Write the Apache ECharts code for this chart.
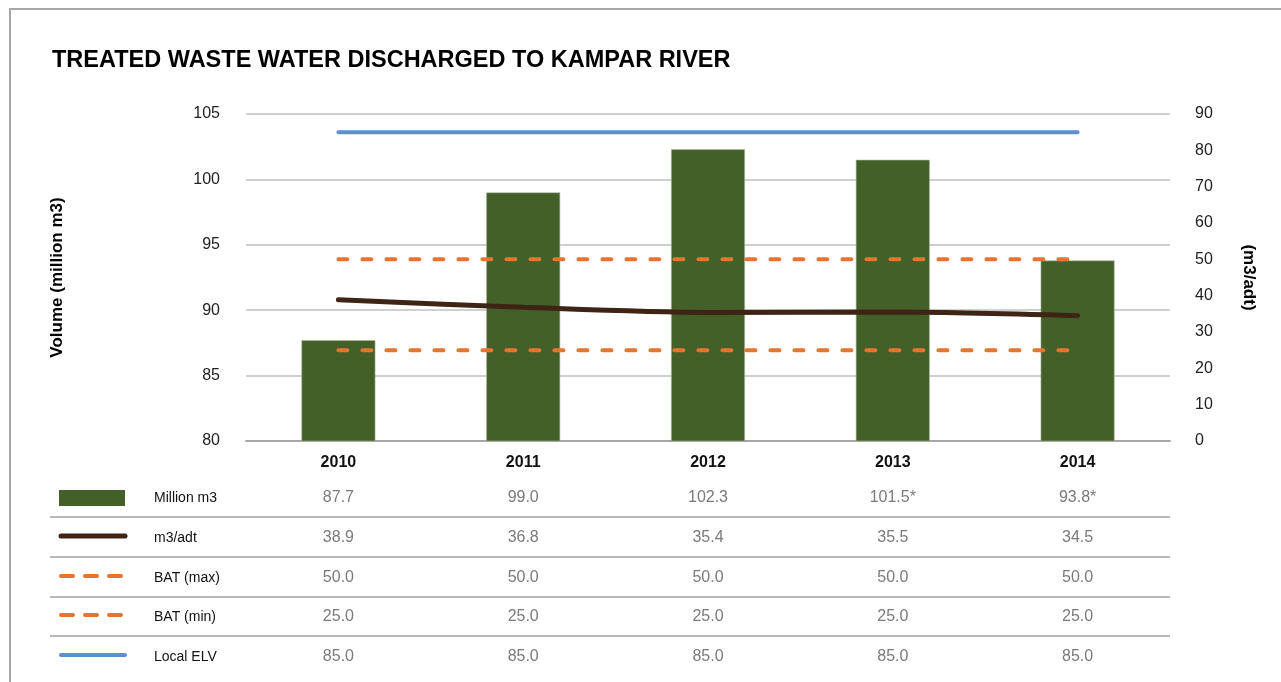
<!DOCTYPE html>
<html>
<head>
<meta charset="utf-8">
<script src="https://cdn.jsdelivr.net/npm/echarts@6/dist/echarts.min.js"></script>
<style>
  html, body { margin: 0; padding: 0; background: #fff; }
  #chart { width: 1281px; height: 682px; }
</style>
</head>
<body>
<div id="chart"></div>
<script>
const years = ["2010", "2011", "2012", "2013", "2014"];
const volume = [87.7, 99.0, 102.3, 101.5, 93.8];
const volumeText = ["87.7", "99.0", "102.3", "101.5*", "93.8*"];
const perAdt = [38.9, 36.8, 35.4, 35.5, 34.5];
const batMax = [50, 50, 50, 50, 50];
const batMin = [25, 25, 25, 25, 25];
const localElv = [85, 85, 85, 85, 85];

const green = "#445f27";
const brown = "#3e2415";
const orange = "#e8742e";
const blue = "#5b8fce";

let dom = document.getElementById("chart");
let myChart = echarts.init(dom, null, { renderer: "canvas" });

let option = {
  animation: false,
  title: {
    text: "TREATED WASTE WATER DISCHARGED TO KAMPAR RIVER",
    left: 47,
    top: 44,
    textStyle: { fontFamily: "Liberation Sans", fontSize: 23.5, fontWeight: "bold", color: "#000" },
  },
  grid: { left: 246, right: 111, top: 114, bottom: 241 },
  xAxis: {
    type: "category",
    data: years,
    axisTick: { show: false },
    axisLine: { lineStyle: { color: "#a6a6a6", width: 2 } },
    axisLabel: { margin: 14, fontFamily: "Liberation Sans", fontSize: 16, fontWeight: "bold", color: "#111" },
  },
  yAxis: [
    {
      type: "value",
      min: 80,
      max: 105,
      interval: 5,
      name: "Volume (million m3)",
      nameLocation: "middle",
      nameGap: 180,
      nameTextStyle: { fontFamily: "Liberation Sans", fontSize: 17, fontWeight: "bold", color: "#000" },
      axisLine: { show: false },
      axisTick: { show: false },
      axisLabel: { margin: 26, fontFamily: "Liberation Sans", fontSize: 16, color: "#222" },
      splitLine: { lineStyle: { color: "#bfbfbf", width: 1.5 } },
    },
    {
      type: "value",
      min: 0,
      max: 90,
      interval: 10,
      name: "(m3/adt)",
      nameLocation: "middle",
      nameGap: 70,
      nameRotate: -90,
      nameTextStyle: { fontFamily: "Liberation Sans", fontSize: 17, fontWeight: "bold", color: "#000" },
      axisLine: { show: false },
      axisTick: { show: false },
      axisLabel: { margin: 25, fontFamily: "Liberation Sans", fontSize: 16, color: "#222" },
      splitLine: { show: false },
    },
  ],
  series: [
    {
      name: "Million m3",
      type: "bar",
      data: volume,
      barWidth: "40%",
      itemStyle: { color: green, borderColor: "#a9b79c", borderWidth: 0.6 },
      z: 1,
    },
    {
      name: "BAT (max)",
      type: "line",
      yAxisIndex: 1,
      data: batMax,
      symbol: "none",
      lineStyle: { color: orange, width: 4, type: [9, 15], cap: "round" },
      z: 3,
    },
    {
      name: "BAT (min)",
      type: "line",
      yAxisIndex: 1,
      data: batMin,
      symbol: "none",
      lineStyle: { color: orange, width: 4, type: [9, 15], cap: "round" },
      z: 3,
    },
    {
      name: "Local ELV",
      type: "line",
      yAxisIndex: 1,
      data: localElv,
      symbol: "none",
      lineStyle: { color: blue, width: 4, cap: "round" },
      z: 3,
    },
    {
      name: "m3/adt",
      type: "line",
      yAxisIndex: 1,
      data: perAdt,
      smooth: 0.3,
      symbol: "none",
      lineStyle: { color: brown, width: 5, cap: "round" },
      z: 4,
    },
  ],
};
myChart.setOption(option);

// data table under the chart
const rows = [
  { label: "Million m3", values: volumeText, kind: "bar" },
  { label: "m3/adt", values: perAdt.map((v) => v.toFixed(1)), kind: "line", color: brown, width: 5 },
  { label: "BAT (max)", values: batMax.map((v) => v.toFixed(1)), kind: "dash", color: orange, width: 4 },
  { label: "BAT (min)", values: batMin.map((v) => v.toFixed(1)), kind: "dash", color: orange, width: 4 },
  { label: "Local ELV", values: localElv.map((v) => v.toFixed(1)), kind: "line", color: blue, width: 4 },
];
const rowY = [498, 538, 578, 617, 657];
const sepY = [517, 557, 597, 636];

let graphics = [];
graphics.push({
  type: "rect",
  shape: { x: 10, y: 9, width: 1300, height: 700 },
  style: { fill: "none", stroke: "#a6a6a6", lineWidth: 2 },
  silent: true,
});
for (let i = 0; i < sepY.length; i++) {
  graphics.push({
    type: "line",
    shape: { x1: 50, y1: sepY[i], x2: 1170, y2: sepY[i] },
    style: { stroke: "#a0a0a0", lineWidth: 1.5 },
    silent: true,
  });
}
for (let r = 0; r < rows.length; r++) {
  let row = rows[r];
  let y = rowY[r];
  if (row.kind == "bar") {
    graphics.push({
      type: "rect",
      shape: { x: 59, y: y - 8, width: 66, height: 16 },
      style: { fill: green },
    });
  } else {
    graphics.push({
      type: "line",
      shape: { x1: 61, y1: y - 2, x2: 125, y2: y - 2 },
      style: {
        stroke: row.color,
        lineWidth: row.width,
        lineCap: "round",
        lineDash: row.kind == "dash" ? [12, 12] : null,
      },
    });
  }
  graphics.push({
    type: "text",
    x: 154,
    y: y,
    style: {
      text: row.label,
      fontFamily: "Liberation Sans",
      fontSize: 14,
      fill: "#111",
      verticalAlign: "middle",
      align: "left",
    },
  });
  for (let i = 0; i < years.length; i++) {
    let x = myChart.convertToPixel({ xAxisIndex: 0 }, years[i]);
    graphics.push({
      type: "text",
      x: x,
      y: y,
      style: {
        text: row.values[i],
        fontFamily: "Liberation Sans",
        fontSize: 16,
        fill: "#7a7a7a",
        verticalAlign: "middle",
        align: "center",
      },
    });
  }
}
myChart.setOption({ graphic: graphics });
</script>
</body>
</html>
